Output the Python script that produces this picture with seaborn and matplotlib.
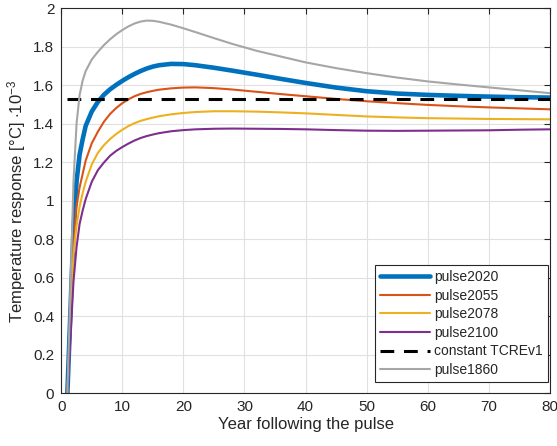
import matplotlib
matplotlib.use("Agg")
import matplotlib.pyplot as plt
import seaborn as sns
import pandas as pd

# Years after the emission pulse at which the responses are sampled
years = [1, 2, 2.5, 3, 3.5, 4, 5, 6, 7, 8, 9, 10, 11, 12, 13, 14, 15, 16,
         18, 20, 22, 25, 28, 32, 36, 40, 45, 50, 55, 60, 65, 70, 75, 80]

# Temperature response per unit pulse [°C · 1e-3]
pulse2020 = [0, 0.85, 1.1, 1.24, 1.32, 1.39, 1.465, 1.515, 1.552, 1.58,
             1.603, 1.624, 1.643, 1.66, 1.675, 1.688, 1.698, 1.705,
             1.712, 1.711, 1.705, 1.692, 1.677, 1.656, 1.634, 1.613, 1.589,
             1.570, 1.558, 1.551, 1.546, 1.542, 1.539, 1.537]
pulse2055 = [0, 0.75, 0.97, 1.07, 1.14, 1.21, 1.3, 1.36, 1.412, 1.452,
             1.483, 1.508, 1.528, 1.544, 1.556, 1.565, 1.572, 1.578,
             1.585, 1.589, 1.59, 1.586, 1.579, 1.567, 1.555, 1.544, 1.53,
             1.518, 1.508, 1.499, 1.492, 1.486, 1.481, 1.476]
pulse2078 = [0, 0.72, 0.87, 0.97, 1.04, 1.1, 1.19, 1.25, 1.29, 1.322,
             1.348, 1.37, 1.389, 1.404, 1.416, 1.425, 1.433, 1.44,
             1.45, 1.457, 1.462, 1.466, 1.466, 1.464, 1.46, 1.455, 1.447,
             1.439, 1.434, 1.43, 1.428, 1.426, 1.425, 1.424]
pulse2100 = [0, 0.58, 0.76, 0.88, 0.95, 1.01, 1.1, 1.16, 1.2, 1.235,
             1.26, 1.28, 1.298, 1.314, 1.327, 1.337, 1.345, 1.352,
             1.362, 1.368, 1.372, 1.375, 1.376, 1.375, 1.374, 1.372, 1.368,
             1.365, 1.364, 1.365, 1.366, 1.367, 1.37, 1.372]
pulse1860 = [0, 1.1, 1.4, 1.55, 1.625, 1.675, 1.735, 1.775, 1.81, 1.84,
             1.866, 1.888, 1.907, 1.922, 1.932, 1.937, 1.936, 1.931,
             1.916, 1.897, 1.877, 1.846, 1.816, 1.78, 1.75, 1.72, 1.69,
             1.664, 1.641, 1.621, 1.605, 1.59, 1.575, 1.56]
tcre_years = [1, 80]
tcre_const = 1.532

x_ticks = [0, 10, 20, 30, 40, 50, 60, 70, 80]
y_ticks = [0, 0.2, 0.4, 0.6, 0.8, 1, 1.2, 1.4, 1.6, 1.8, 2]
y_tick_labels = ["0", "0.2", "0.4", "0.6", "0.8", "1", "1.2", "1.4", "1.6", "1.8", "2"]

sns.set_style("white")
plt.rcParams["font.family"] = ["Liberation Sans", "DejaVu Sans"]
plt.rcParams["mathtext.fontset"] = "custom"
plt.rcParams["mathtext.rm"] = "Liberation Sans"
plt.rcParams["mathtext.it"] = "Liberation Sans:italic"

AX_COL = "#262626"

fig = plt.figure(figsize=(5.57, 4.46), dpi=100)
ax = fig.add_axes([0.110, 0.118, 0.877, 0.863])

series = [
    ("pulse2020", pulse2020, "#0072BD", 3.3, "-"),
    ("pulse2055", pulse2055, "#D95319", 1.5, "-"),
    ("pulse2078", pulse2078, "#EDB120", 1.5, "-"),
    ("pulse2100", pulse2100, "#7E2F8E", 1.5, "-"),
    ("constant TCREv1", None, "black", 2.2, "--"),
    ("pulse1860", pulse1860, "#A6A6A6", 1.5, "-"),
]

for name, vals, col, lw, ls in series:
    if vals is None:
        df = pd.DataFrame({"year": tcre_years, "resp": [tcre_const] * len(tcre_years)})
    else:
        df = pd.DataFrame({"year": years, "resp": vals})
    line_ax = sns.lineplot(data=df, x="year", y="resp", ax=ax, color=col,
                           linewidth=lw, label=name, sort=False)
    if ls == "--":
        line_ax.lines[-1].set_dashes((4.5, 3.2))

ax.set_xlim(0, 80)
ax.set_ylim(0, 2)
ax.set_xticks(x_ticks)
ax.set_xticklabels([str(t) for t in x_ticks])
ax.set_yticks(y_ticks)
ax.set_yticklabels(y_tick_labels)
ax.grid(True, color="#E0E0E0", linewidth=0.8)
ax.set_axisbelow(True)

for sp in ax.spines.values():
    sp.set_visible(True)
    sp.set_color(AX_COL)
    sp.set_linewidth(0.8)

ax.tick_params(axis="both", which="both", direction="in", length=4,
               width=0.8, color=AX_COL, labelcolor=AX_COL, labelsize=11,
               top=True, right=True, pad=5)

ax.set_xlabel("Year following the pulse", fontsize=12, color=AX_COL, labelpad=2)
ax.set_ylabel(r"Temperature response [°C] $\cdot10^{-3}$", fontsize=12,
              color=AX_COL, labelpad=4)

leg = ax.legend(loc="lower right", bbox_to_anchor=(0.996, 0.03), fontsize=10,
                frameon=True, fancybox=False, framealpha=1, edgecolor=AX_COL,
                handlelength=3.6, handletextpad=0.3, borderpad=0.35,
                labelspacing=0.33, borderaxespad=0.0)
leg.get_frame().set_linewidth(0.8)

fig.savefig("out.png", dpi=100)
